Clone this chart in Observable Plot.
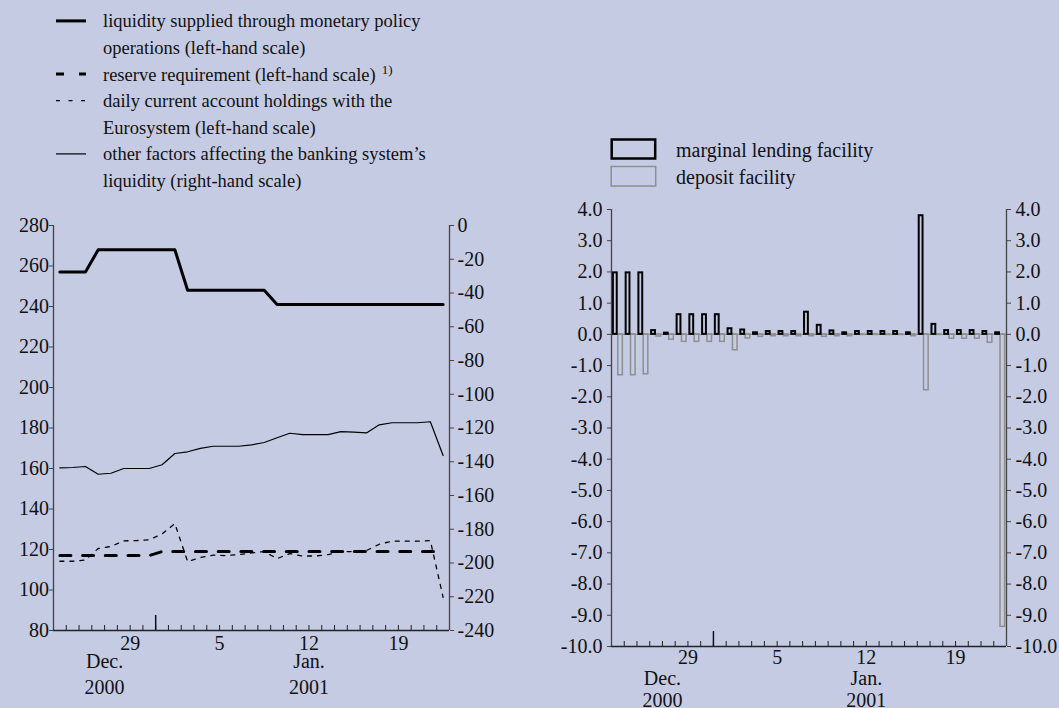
<!DOCTYPE html>
<html><head><meta charset="utf-8">
<script src="https://cdn.jsdelivr.net/npm/d3@7"></script>
<script src="https://cdn.jsdelivr.net/npm/@observablehq/plot@0.6"></script>
<style>
html,body{margin:0;padding:0;background:#c6cbe4;}
#root{position:relative;width:1059px;height:708px;overflow:hidden;background:#c6cbe4;font-family:"Liberation Serif","Times New Roman",serif;color:#111;}
.abs{position:absolute;}
</style></head><body><div id="root"></div>
<script>
// ---- data ----
const days = d3.utcDay.range(new Date(Date.UTC(2000,11,24)), new Date(Date.UTC(2001,0,24))).map(d3.utcFormat("%Y-%m-%d"));
const liquiditySupplied = [257,257,257,268,268,268,268,268,268,268,248,248,248,248,248,248,248,241,241,241,241,241,241,241,241,241,241,241,241,241,241];
const reserveRequirement = [117,117,117,117,117,117,117,117,119,119,119,119,119,119,119,119,119,119,119,119,119,119,119,119,119,119,119,119,119,119,119];
const currentAccounts = [114.2,114.2,114.8,120.5,121.5,124.3,124.4,124.8,127.7,132.8,114.0,116.0,117.2,117.0,117.5,118.3,119.0,115.5,118.0,116.8,116.8,117.5,119.0,119.0,119.5,122.6,124.1,124.1,124.1,124.4,96.4];
const otherFactors = [-143.6,-143.4,-142.8,-147.4,-146.8,-144.0,-144.0,-144.0,-141.8,-135.1,-134.1,-132.1,-130.8,-130.8,-130.8,-130.0,-128.6,-125.8,-123.1,-123.9,-123.9,-123.9,-122.1,-122.5,-122.9,-118.1,-116.9,-116.9,-116.9,-116.3,-136.3];
const marginalLending = [1.97,1.97,1.97,0.12,0.04,0.63,0.63,0.63,0.63,0.18,0.14,0.05,0.09,0.09,0.09,0.71,0.29,0.11,0.05,0.09,0.09,0.09,0.09,0.05,3.80,0.32,0.12,0.12,0.12,0.09,0.05];
const depositFacility = [-1.31,-1.31,-1.28,-0.07,-0.17,-0.24,-0.24,-0.24,-0.24,-0.51,-0.13,-0.08,-0.06,-0.06,-0.06,-0.06,-0.08,-0.06,-0.06,-0.02,-0.02,-0.02,-0.02,-0.06,-1.79,-0.02,-0.14,-0.14,-0.14,-0.27,-9.37];
const leftTicks = d3.range(80, 281, 20);
const rightTicks = d3.range(-240, 1, 20);
const barTicks = d3.range(-10, 5, 1);
const dayTickDates = ["2000-12-29","2001-01-05","2001-01-12","2001-01-19"];
const dayTickLabels = ["29","5","12","19"];
const monthLabels = ["Dec.","Jan."];
const yearLabels = ["2000","2001"];
const monthCenter = [4, 20];
const legendLeft = [
  ["liquidity supplied through monetary policy","operations (left-hand scale)"],
  ["reserve requirement (left-hand scale)"],
  ["daily current account holdings with the","Eurosystem (left-hand scale)"],
  ["other factors affecting the banking system\u2019s","liquidity (right-hand scale)"]
];
const legendRight = ["marginal lending facility","deposit facility"];

// ---- helpers ----
const root = document.getElementById("root");
function place(el, left, top){ el.classList.add("abs"); el.style.left = left+"px"; el.style.top = top+"px"; root.appendChild(el); }
const font = "Liberation Serif, Times New Roman, serif";
const baseStyle = {background:"transparent", fontFamily:font, fontSize:"20px", color:"#111", overflow:"visible"};
const nDays = days.length;
const rows = days.map((d,i)=>({i, x:i+0.5, liq:liquiditySupplied[i], rr:reserveRequirement[i], cah:currentAccounts[i], oth:otherFactors[i], mlf:marginalLending[i], dep:depositFacility[i]}));
const tickRows = dayTickLabels.map((t,k)=>({x: days.indexOf(dayTickDates[k]) + 1, t}));
const monthRows = monthLabels.map((m,k)=>({x: monthCenter[k], m, y: yearLabels[k]}));

function xAxisMarks(frameH, dyDay, dyMonth, dyYear){
  return [
    Plot.ruleX(d3.range(1, nDays), {insetTop: frameH-5, stroke:"#222", strokeWidth:1}),
    Plot.ruleX([days.indexOf("2001-01-01")], {insetTop: frameH-15, stroke:"#111", strokeWidth:1.5}),
    Plot.text(tickRows, {x:"x", text:"t", frameAnchor:"bottom", dy:dyDay, lineAnchor:"middle", fill:"#111"}),
    Plot.text(monthRows, {x:"x", text:"m", frameAnchor:"bottom", dy:dyMonth, lineAnchor:"middle", fill:"#111"}),
    Plot.text(monthRows, {x:"x", text:"y", frameAnchor:"bottom", dy:dyYear, lineAnchor:"middle", fill:"#111"})
  ];
}

// ---- left panel ----
const LW = 500, LH = 508, LM = {marginLeft:53, marginRight:51, marginTop:25, marginBottom:78};
const LFH = LH - LM.marginTop - LM.marginBottom;
const plotA = Plot.plot({
  width:LW, height:LH, ...LM, style:baseStyle,
  x:{domain:[0,nDays], axis:null}, y:{domain:[80,280], axis:null},
  marks:[
    Plot.ruleX([0, nDays], {stroke:"#444", strokeWidth:1.3}),
    Plot.ruleY([80], {stroke:"#222", strokeWidth:1.5}),
    ...xAxisMarks(LFH, 12.7, 31, 57),
    Plot.axisY({anchor:"left", label:null, ticks:leftTicks, tickSize:4, tickPadding:0.5, tickFormat:d=>String(d), stroke:"#444"}),
    Plot.line(rows, {x:"x", y:"liq", stroke:"#000", strokeWidth:3}),
    Plot.line(rows, {x:"x", y:"rr", stroke:"#000", strokeWidth:3, strokeDasharray:"11,11.7"}),
    Plot.line(rows, {x:"x", y:"cah", stroke:"#000", strokeWidth:1.3, strokeDasharray:"4,6"})
  ]
});
const plotB = Plot.plot({
  width:LW, height:LH, ...LM, style:baseStyle,
  x:{domain:[0,nDays], axis:null}, y:{domain:[-240,0], axis:null},
  marks:[
    Plot.axisY({anchor:"right", label:null, ticks:rightTicks, tickSize:4, tickPadding:4, tickFormat:d=>String(d), stroke:"#444"}),
    Plot.line(rows, {x:"x", y:"oth", stroke:"#000", strokeWidth:1.2})
  ]
});
place(plotA, 0, 200);
place(plotB, 0, 200);

// ---- right panel ----
const RW = 504, RH = 518, RM = {marginLeft:56, marginRight:53, marginTop:19, marginBottom:62};
const RFH = RH - RM.marginTop - RM.marginBottom;
const fmt1 = d => d.toFixed(1);
const plotC = Plot.plot({
  width:RW, height:RH, ...RM, style:baseStyle,
  x:{domain:[0,nDays], axis:null}, y:{domain:[-10,4], axis:null},
  marks:[
    Plot.ruleY([0], {stroke:"#8a8a8a", strokeWidth:1}),
    Plot.rect(rows, {x1:d=>d.i+0.53, x2:d=>d.i+0.89, y1:0, y2:"dep", stroke:"#8f8f8f", strokeWidth:1.5, fill:"none"}),
    Plot.rect(rows, {x1:d=>d.i+0.15, x2:d=>d.i+0.45, y1:0, y2:"mlf", stroke:"#000", strokeWidth:2, fill:"none"}),
    Plot.ruleX([0, nDays], {stroke:"#444", strokeWidth:1.3}),
    Plot.ruleY([-10], {stroke:"#222", strokeWidth:1.5}),
    ...xAxisMarks(RFH, 10.7, 32, 54),
    Plot.axisY({anchor:"left", label:null, ticks:barTicks, tickSize:4, tickPadding:5, tickFormat:fmt1, stroke:"#444"}),
    Plot.axisY({anchor:"right", label:null, ticks:barTicks, tickSize:4, tickPadding:5, tickFormat:fmt1, stroke:"#444"})
  ]
});
place(plotC, 555, 190);

// ---- legends ----
const lg = d3.create("svg").attr("width", 560).attr("height", 200)
  .style("font-family", font).style("font-size", "18.5px").style("overflow","visible");
const sampleStyles = [
  {w:3, dash:null}, {w:3, dash:"8,15"}, {w:1.3, dash:"4,8.5"}, {w:1.2, dash:null}
];
let row = 0;
legendLeft.forEach((lines, k) => {
  const base = 27.3 + 26.6*row;
  const s = sampleStyles[k];
  lg.append("line").attr("x1",56).attr("x2",86).attr("y1",base-6.4).attr("y2",base-6.4)
    .attr("stroke","#000").attr("stroke-width",s.w).attr("stroke-dasharray",s.dash);
  lines.forEach((t,j) => {
    const tx = lg.append("text").attr("x",103).attr("y", base + 26.6*j).attr("fill","#111").text(t);
    if (k === 1) tx.append("tspan").attr("dx",6).attr("dy",-7).style("font-size","13px").text("1)");
  });
  row += lines.length;
});
place(lg.node(), 0, 0);

const rg = d3.create("svg").attr("width", 449).attr("height", 60)
  .style("font-family", font).style("font-size", "20px").style("overflow","visible");
rg.append("rect").attr("x",1.7).attr("y",10.5).attr("width",43.5).attr("height",19).attr("fill","none").attr("stroke","#000").attr("stroke-width",2.5);
rg.append("rect").attr("x",1.2).attr("y",37.5).attr("width",44.5).attr("height",19.5).attr("fill","none").attr("stroke","#8f8f8f").attr("stroke-width",1.5);
legendRight.forEach((t,k) => rg.append("text").attr("x",66).attr("y",28.3 + 27*k).attr("fill","#111").text(t));
place(rg.node(), 610, 129);
</script>
</body></html>
